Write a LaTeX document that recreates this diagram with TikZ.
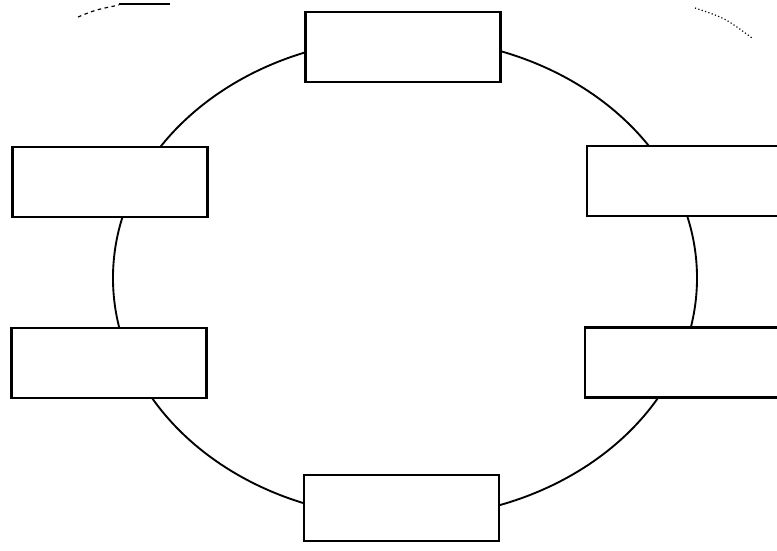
\documentclass[tikz,border=0pt]{standalone}
\usetikzlibrary{positioning,shapes.geometric}
\begin{document}
\begin{tikzpicture}[
    x=0.03cm, y=-0.03cm,
    ring/.style = {
      draw,
      ellipse,
      line width=1.6pt,
      minimum width=17.52cm,
      minimum height=14.4cm,
      inner sep=0pt
    },
    box/.style = {
      draw,
      fill=white,
      line width=1.8pt,
      minimum width=5.85cm,
      minimum height=2.1cm,
      inner sep=0pt
    },
    scrap/.style = {line width=1pt}
  ]
\useasboundingbox (0,0) rectangle (777,550);
\clip (0,0) rectangle (777,550);

\node[ring] (ring) at (405,278) {};

\node[box] (top) at (403,47) {};
\node[box] (upleft) at (110,182) {};
\node[box] (lowleft) at (109,363) {};
\node[box, minimum width=7.5cm] (upright) at (712,181) {};
\node[box, minimum width=7.5cm] (lowright) at (710,362.5) {};
\node[box, minimum height=2.0cm] (bottom) at (401.5,508) {};

% scan remnants at the top corners
\draw[scrap] (119,4) -- (170,4);
\draw[scrap, dashed] (78,17) .. controls (95,10) .. (119,5);
\draw[scrap, dotted] (695,8) .. controls (725,18) .. (752,38);
\end{tikzpicture}
\end{document}
